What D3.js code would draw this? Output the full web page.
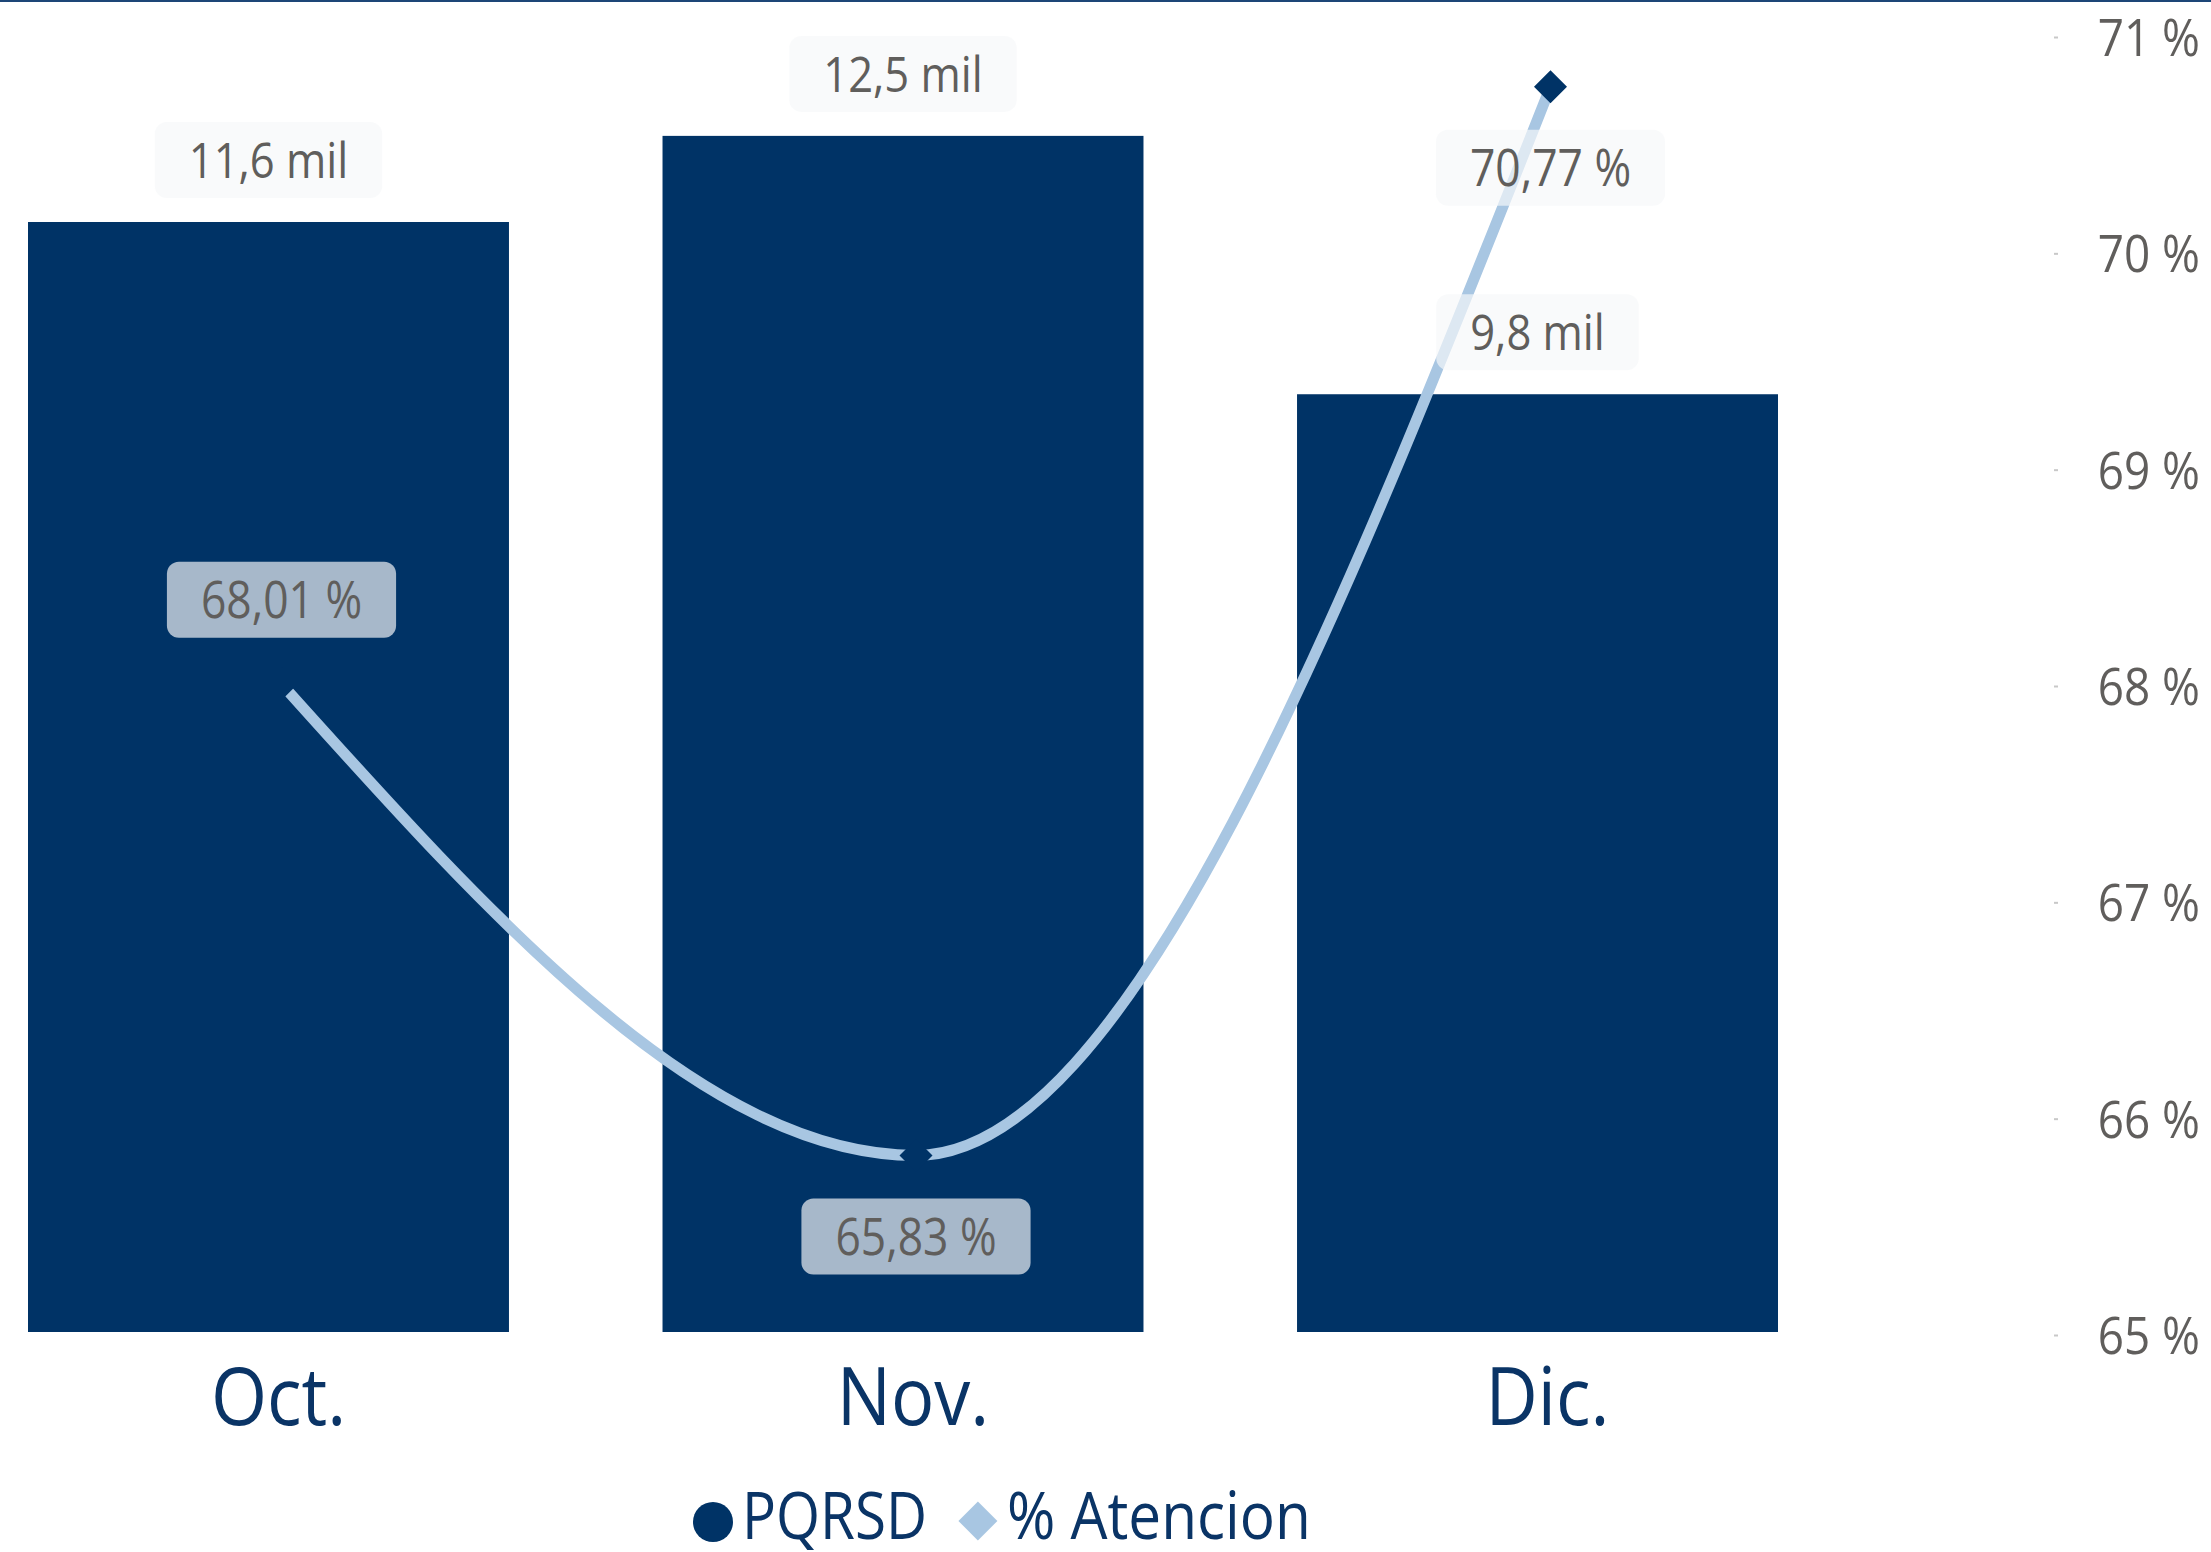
<!DOCTYPE html>
<html><head><meta charset="utf-8">
<script src="https://cdn.jsdelivr.net/npm/d3@7"></script>
<style>body{margin:0;background:#fff} svg{display:block} text{font-family:"Open Sans","Noto Sans",sans-serif}</style>
</head><body><svg id="c" width="2211" height="1552"></svg>
<script>
// ---- data ----
const categories = ["Oct.", "Nov.", "Dic."];
const pqrsd = [11.6, 12.5, 9.8];                 // thousands
const pqrsdLabels = ["11,6 mil", "12,5 mil", "9,8 mil"];
const atencion = [68.01, 65.83, 70.77];          // %
const atencionLabels = ["68,01 %", "65,83 %", "70,77 %"];
const atencionLabelSide = ["above", "below", "below"];
const rightTicks = [65, 66, 67, 68, 69, 70, 71];
const legendItems = ["PQRSD", "% Atencion"];

// ---- style ----
const BAR = "#003366", LINE = "#a8c6e2", TXT = "#605e5c", CAT = "#0a3466";
const SQX = 0.87; // horizontal squeeze of glyphs

const svg = d3.select("#c");
const W = 2211, H = 1552;

// top border
svg.append("rect").attr("x", 0).attr("y", 0).attr("width", W).attr("height", 2).attr("fill", "#1d4677");

const x = d3.scaleBand().domain(categories).range([28, 1778]).paddingInner(0.242).paddingOuter(0);
const xp = d3.scalePoint().domain(categories).range([281.5, 1550.5]);
const yBar = d3.scaleLinear().domain([0, 13.92]).range([1332, 0]);
const yPct = d3.scaleLinear().domain([65, 71]).range([1335, 37]);

// bars
svg.append("g").selectAll("rect").data(pqrsd).join("rect")
  .attr("x", (d, i) => x(categories[i]))
  .attr("y", d => yBar(d))
  .attr("width", x.bandwidth())
  .attr("height", d => yBar(0) - yBar(d))
  .attr("fill", BAR);

// right axis
const ax = svg.append("g").attr("transform", "translate(2054,0)")
  .call(d3.axisRight(yPct).tickValues(rightTicks).tickSize(4).tickFormat(d => d + " %"));
ax.select(".domain").remove();
ax.selectAll(".tick line").attr("stroke", "#c8c8c8").attr("stroke-width", 2);
ax.selectAll(".tick text")
  .attr("x", 0).attr("dy", "0.36em")
  .attr("transform", `translate(146,0) scale(0.9,1)`)
  .attr("text-anchor", "end").attr("fill", TXT)
  .style("font-size", "51px");

// line
const line = d3.line().x((d, i) => xp(categories[i])).y(d => yPct(d)).curve(d3.curveMonotoneX);
svg.append("path").datum(atencion).attr("d", line)
  .attr("fill", "none").attr("stroke", LINE).attr("stroke-width", 11);

// markers
svg.append("g").selectAll("path").data(atencion).join("path")
  .attr("d", d3.symbol(d3.symbolSquare, 545))
  .attr("transform", (d, i) => `translate(${xp(categories[i])},${yPct(d)}) rotate(45)`)
  .attr("fill", BAR);

// data labels
function label(cx, cy, txt, fs) {
  const g = svg.append("g").attr("transform", `translate(${cx},${cy})`);
  const r = g.append("rect");
  const t = g.append("text").text(txt).attr("text-anchor", "middle").attr("dy", "0.357em")
    .attr("transform", `scale(${SQX},1)`).attr("fill", TXT).style("font-size", fs + "px");
  const w = t.node().getComputedTextLength() * SQX + 68;
  r.attr("x", -w / 2).attr("y", -38).attr("width", w).attr("height", 76).attr("rx", 12)
    .attr("fill", "#f6f7f9").attr("fill-opacity", 0.68);
}
pqrsd.forEach((v, i) => label(x(categories[i]) + x.bandwidth() / 2, yBar(v) - 62, pqrsdLabels[i], 50));
atencion.forEach((v, i) => label(xp(categories[i]), yPct(v) + (atencionLabelSide[i] === "above" ? -84 : 81), atencionLabels[i], 51));

// category labels
svg.append("g").selectAll("g").data(categories).join("g")
  .attr("transform", d => `translate(${xp(d) - 3},1425)`)
  .append("text").text(d => d).attr("text-anchor", "middle")
  .attr("transform", `scale(0.89,1)`).attr("fill", CAT).style("font-size", "81px");

// legend
const lg = svg.append("g");
let lx = 693;
lg.append("circle").attr("cx", lx + 20).attr("cy", 1522).attr("r", 20).attr("fill", BAR);
const t1g = lg.append("g").attr("transform", `translate(${lx + 49},1539)`);
const t1 = t1g.append("text").text(legendItems[0]).attr("transform", `scale(${SQX},1)`)
  .attr("fill", CAT).style("font-size", "65px");
lx = lx + 49 + t1.node().getComputedTextLength() * SQX + 51;
lg.append("path").attr("d", d3.symbol(d3.symbolSquare, 760))
  .attr("transform", `translate(${lx},1521) rotate(45)`).attr("fill", LINE);
lg.append("g").attr("transform", `translate(${lx + 29},1539)`)
  .append("text").text(legendItems[1]).attr("transform", `scale(0.9,1)`)
  .attr("fill", CAT).style("font-size", "65px");
</script></body></html>
